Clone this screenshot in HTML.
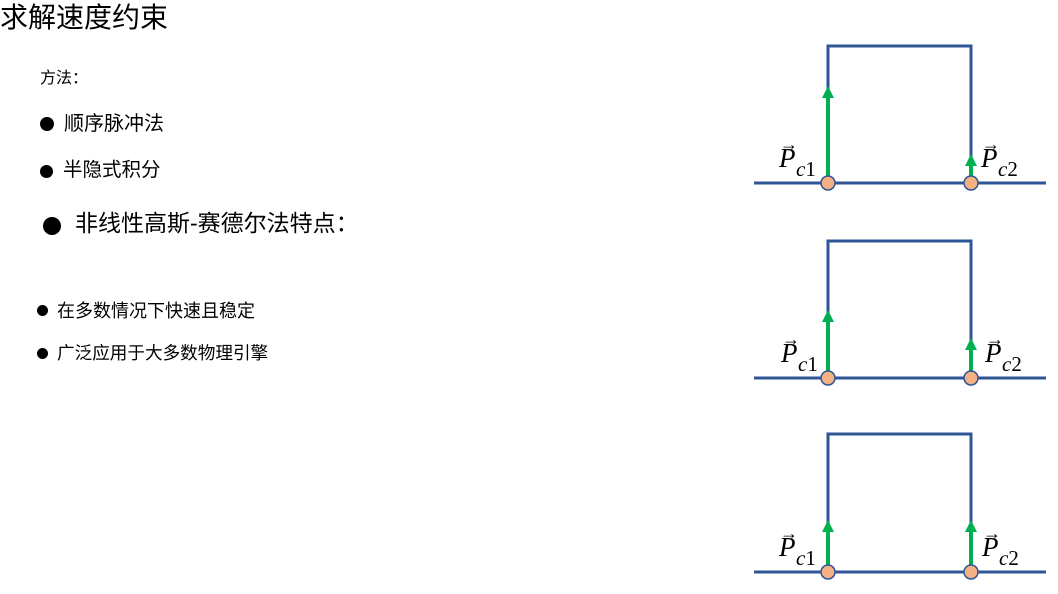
<!DOCTYPE html>
<html><head><meta charset="utf-8"><style>
body{margin:0;width:1058px;height:594px;background:#fff;overflow:hidden;position:relative;font-family:"Liberation Sans","Noto Sans CJK SC",sans-serif;color:#000}
.t{position:absolute;white-space:nowrap;line-height:1}
.b{position:absolute;border-radius:50%;background:#000}
</style></head><body>
<div class="t" style="left:0;top:4px;font-size:28px">求解速度约束</div>
<div class="t" style="left:40px;top:71px;font-size:16px">方法：</div>
<div class="b" style="left:40px;top:117px;width:14px;height:14px"></div>
<div class="t" style="left:64px;top:114px;font-size:20px">顺序脉冲法</div>
<div class="b" style="left:40px;top:165px;width:13px;height:13px"></div>
<div class="t" style="left:63px;top:161px;font-size:19.5px">半隐式积分</div>
<div class="b" style="left:43px;top:217px;width:18px;height:18px"></div>
<div class="t" style="left:75px;top:212px;font-size:23px">非线性高斯-赛德尔法特点：</div>
<div class="b" style="left:37px;top:305px;width:11px;height:11px"></div>
<div class="t" style="left:57px;top:302px;font-size:18px">在多数情况下快速且稳定</div>
<div class="b" style="left:37px;top:348px;width:11px;height:11px"></div>
<div class="t" style="left:57px;top:345px;font-size:17.6px">广泛应用于大多数物理引擎</div>
<svg width="1058" height="594" style="position:absolute;left:0;top:0" font-family="Liberation Serif,serif" font-style="italic">
<g>
<polyline points="828,183 828,46 971,46 971,183" stroke="#2F5597" stroke-width="3" fill="none"/>
<line x1="754" y1="183" x2="1046" y2="183" stroke="#2F5597" stroke-width="3"/>
<line x1="828" y1="183" x2="828" y2="98" stroke="#00B050" stroke-width="4"/><polygon points="822,98 834,98 828,86" fill="#00B050"/>
<line x1="971" y1="183" x2="971" y2="166" stroke="#00B050" stroke-width="4"/><polygon points="965,166 977,166 971,154" fill="#00B050"/>
<circle cx="828" cy="183" r="7" fill="#F4B183" stroke="#2F5597" stroke-width="1.5"/><circle cx="971" cy="183" r="7" fill="#F4B183" stroke="#2F5597" stroke-width="1.5"/>
<text x="779" y="167" font-size="27">P</text><text x="796" y="176" font-size="21">c<tspan font-style="normal">1</tspan></text><text x="780" y="150" font-size="18" font-style="normal">→</text>
<text x="981" y="167" font-size="27">P</text><text x="998" y="176" font-size="21">c<tspan font-style="normal">2</tspan></text><text x="982" y="150" font-size="18" font-style="normal">→</text>
</g>
<g transform="translate(0,195)">
<polyline points="828,183 828,46 971,46 971,183" stroke="#2F5597" stroke-width="3" fill="none"/>
<line x1="754" y1="183" x2="1046" y2="183" stroke="#2F5597" stroke-width="3"/>
<line x1="828" y1="183" x2="828" y2="127" stroke="#00B050" stroke-width="4"/><polygon points="822,127 834,127 828,115" fill="#00B050"/>
<line x1="971" y1="183" x2="971" y2="155" stroke="#00B050" stroke-width="4"/><polygon points="965,155 977,155 971,143" fill="#00B050"/>
<circle cx="828" cy="183" r="7" fill="#F4B183" stroke="#2F5597" stroke-width="1.5"/><circle cx="971" cy="183" r="7" fill="#F4B183" stroke="#2F5597" stroke-width="1.5"/>
<text x="781" y="167" font-size="27">P</text><text x="798" y="176" font-size="21">c<tspan font-style="normal">1</tspan></text><text x="782" y="150" font-size="18" font-style="normal">→</text>
<text x="985" y="167" font-size="27">P</text><text x="1002" y="176" font-size="21">c<tspan font-style="normal">2</tspan></text><text x="986" y="150" font-size="18" font-style="normal">→</text>
</g>
<g transform="translate(0,389)">
<polyline points="828,183 828,45 971,45 971,183" stroke="#2F5597" stroke-width="3" fill="none"/>
<line x1="754" y1="183" x2="1046" y2="183" stroke="#2F5597" stroke-width="3"/>
<line x1="828" y1="183" x2="828" y2="143" stroke="#00B050" stroke-width="4"/><polygon points="822,143 834,143 828,131" fill="#00B050"/>
<line x1="971" y1="183" x2="971" y2="143" stroke="#00B050" stroke-width="4"/><polygon points="965,143 977,143 971,131" fill="#00B050"/>
<circle cx="828" cy="183" r="7" fill="#F4B183" stroke="#2F5597" stroke-width="1.5"/><circle cx="971" cy="183" r="7" fill="#F4B183" stroke="#2F5597" stroke-width="1.5"/>
<text x="779" y="167" font-size="27">P</text><text x="796" y="176" font-size="21">c<tspan font-style="normal">1</tspan></text><text x="780" y="150" font-size="18" font-style="normal">→</text>
<text x="982" y="167" font-size="27">P</text><text x="999" y="176" font-size="21">c<tspan font-style="normal">2</tspan></text><text x="983" y="150" font-size="18" font-style="normal">→</text>
</g>
</svg>
</body></html>
